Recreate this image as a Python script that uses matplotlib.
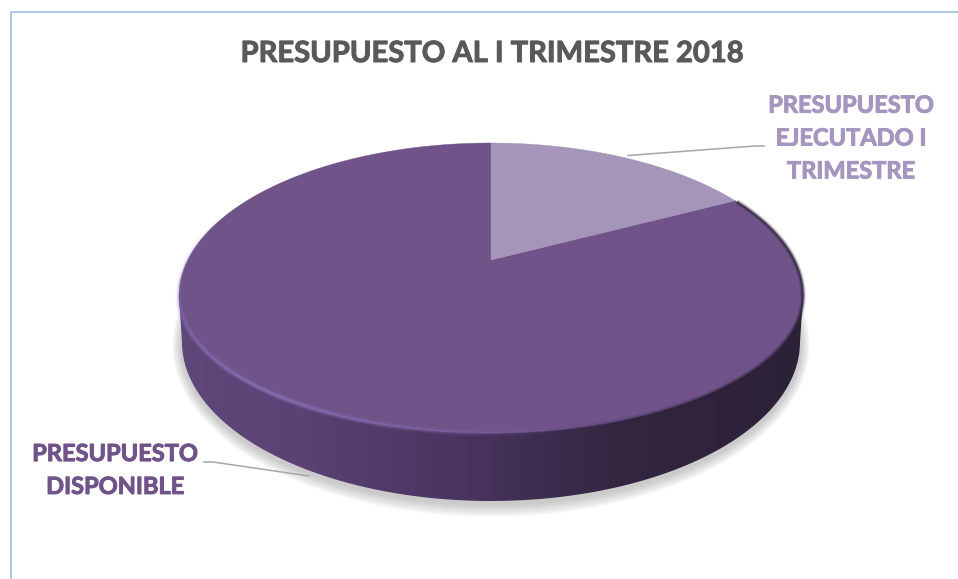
import numpy as np
import matplotlib
matplotlib.use("Agg")
import matplotlib.pyplot as plt
import matplotlib.patheffects as pe
from matplotlib.patches import Polygon
from matplotlib.collections import LineCollection
from matplotlib.colors import LinearSegmentedColormap, to_rgba

# ---- data ----
title = "PRESUPUESTO AL I TRIMESTRE 2018"
categories = ["PRESUPUESTO\nEJECUTADO I\nTRIMESTRE", "PRESUPUESTO\nDISPONIBLE"]
values = [14.3, 85.7]
slice_colors = ["#a596b9", "#6f5389"]
label_colors = ["#a596bf", "#6f5389"]

W, H = 958, 579
fig = plt.figure(figsize=(W / 100, H / 100), dpi=100, facecolor="white")
ax = fig.add_axes([0, 0, 1, 1])
ax.set_xlim(0, W)
ax.set_ylim(H, 0)
ax.axis("off")
plt.rcParams["font.family"] = ["Lato", "DejaVu Sans"]

# ---- geometry of the tilted pie ----
CX, CY, RX, RUP, RLOW = 491, 296, 312, 153, 137   # top face (perspective: far half taller)
VY = 260                                          # apex of the slices
BX, BY, BRX, BRY = 491, 342, 309, 159             # lower rim


def rim(t):
    """Top-face rim point for a clockwise angle (radians) from 12 o'clock."""
    c = np.cos(t)
    return CX + RX * np.sin(t), CY - np.where(c > 0, RUP, RLOW) * c


# ---- soft shadow ----
t = np.linspace(0, 2 * np.pi, 400)
for g in np.linspace(13, 1, 13):
    ax.add_patch(Polygon(np.c_[BX + (BRX + g * .75) * np.cos(t),
                               BY + 3 + (BRY + g) * np.sin(t)],
                         closed=True, fc="#808080", ec="none", alpha=0.035, zorder=1))

# ---- side wall with horizontal gradient ----
side_cmap = LinearSegmentedColormap.from_list("side", [
    (0.00, "#5f477a"), (0.20, "#5a4274"), (0.35, "#503a67"), (0.50, "#45325a"),
    (0.62, "#3b2b4b"), (0.72, "#33263f"), (1.00, "#2c2238")])
im = ax.imshow(np.linspace(0, 1, 512)[None, :], cmap=side_cmap, aspect="auto",
               extent=(CX - RX, CX + RX, BY + BRY, CY), zorder=2)
tb = np.linspace(0, np.pi, 200)
side = np.vstack([[CX - RX, CY], [CX + RX, CY],
                  np.c_[BX + BRX * np.cos(tb), BY + BRY * np.sin(tb)]])
clip = Polygon(side, closed=True, transform=ax.transData, fc="none", ec="none")
ax.add_patch(clip)
im.set_clip_path(clip)
ax.set_xlim(0, W)
ax.set_ylim(H, 0)

# ---- top-face slices, drawn from the values ----
fractions = np.cumsum([0] + values) / sum(values) * 2 * np.pi
for i in range(len(values)):
    a = np.linspace(fractions[i], fractions[i + 1], 400)
    x, y = rim(a)
    ax.add_patch(Polygon(np.vstack([[CX, VY], np.c_[x, y]]), closed=True,
                         fc=slice_colors[i], ec=slice_colors[i], lw=0.3,
                         zorder=3 if i else 4))

# ---- bevel: light on the lower left, dark on the right ----
a = np.radians(np.linspace(52, 300, 800))
x, y = rim(a)
pts = np.c_[x, y]
segs = np.stack([pts[:-1], pts[1:]], axis=1)
deg = np.degrees(a[:-1])
light = np.interp(deg, [130, 170, 200, 225, 255, 270, 300], [0, .12, .5, .85, .55, .3, 0])
dark = np.interp(deg, [52, 90, 125, 150, 170], [.7, .8, .55, .25, 0])
for lw, k in [(5, .25), (3, .5), (1.5, .8)]:
    ax.add_collection(LineCollection(segs, colors=[to_rgba("#8a72b8", v * k) for v in light],
                                     linewidths=lw, capstyle="butt", zorder=5))
    ax.add_collection(LineCollection(segs, colors=[to_rgba("#2c2238", v * k) for v in dark],
                                     linewidths=lw * .8, capstyle="butt", zorder=5))

# ---- frame ----
ax.plot([11, 11], [H, 12], color="#9dbbdd", lw=1.2, zorder=6, solid_capstyle="butt")
ax.plot([11, W], [12, 12], color="#9dbbdd", lw=1.2, zorder=6, solid_capstyle="butt")

# ---- leader lines ----
ax.plot([628, 755, 764], [155.5, 146, 146], color="#a6a6a6", lw=1.1, zorder=6)
ax.plot([204, 213, 309], [462, 462, 476], color="#a6a6a6", lw=1.1, zorder=6)

# ---- text ----
ax.text(492, 54, title, ha="center", va="center", fontsize=21,
        fontweight="bold", color="#595959", zorder=7,
        path_effects=[pe.withStroke(linewidth=0.7, foreground="#595959")])
ax.text(851, 138, categories[0], ha="center", va="center", fontsize=17,
        fontweight="bold", color=label_colors[0], linespacing=1.52, zorder=7,
        path_effects=[pe.withStroke(linewidth=0.7, foreground=label_colors[0])])
ax.text(115, 470, categories[1], ha="center", va="center", fontsize=17,
        fontweight="bold", color=label_colors[1], linespacing=1.52, zorder=7,
        path_effects=[pe.withStroke(linewidth=0.7, foreground=label_colors[1])])

fig.savefig("out.png", dpi=100, facecolor="white")
